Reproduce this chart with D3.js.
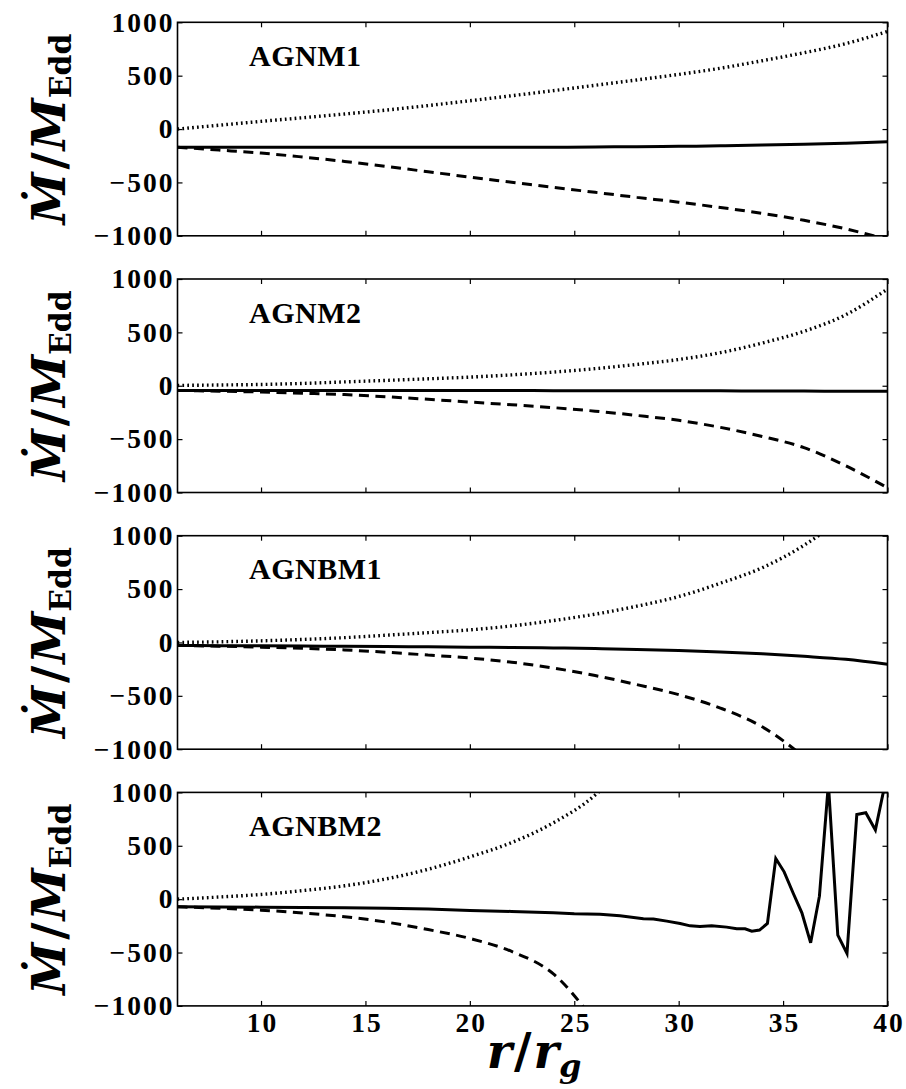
<!DOCTYPE html>
<html><head><meta charset="utf-8">
<script src="https://cdn.jsdelivr.net/npm/d3@7"></script>
<style>body{margin:0;background:#fff}</style>
</head><body>
<svg id="c" width="906" height="1089"></svg>
<script>
// ---------- data ----------
const panelNames = ["AGNM1", "AGNM2", "AGNBM1", "AGNBM2"];
const xTicks = [10, 15, 20, 25, 30, 35, 40];
const yTicks = [-1000, -500, 0, 500, 1000];
const rGrid = [6, 8, 10, 12, 14, 16, 18, 20, 22, 24, 26, 28, 30, 32, 34, 36, 38, 40];

// AGNM1
const agnm1Net = [-170, -170, -170, -170, -170, -170, -170, -170, -170, -170, -168, -165, -162, -157, -150, -142, -132, -120];
const agnm1In  = [0, 36, 72, 106, 141, 178, 220, 265, 312, 360, 410, 460, 512, 570, 640, 715, 800, 915];
const agnm1Out = [-170, -197, -225, -262, -303, -350, -400, -450, -498, -546, -593, -640, -685, -735, -790, -855, -935, -1035];
// AGNM2
const agnm2Net = [-44, -44, -44, -44, -44, -45, -45, -45, -45, -46, -46, -47, -47, -48, -49, -50, -51, -52];
const agnm2In  = [3, 7, 12, 22, 36, 50, 65, 81, 102, 128, 160, 200, 246, 310, 400, 510, 665, 906];
const agnm2Out = [-44, -51, -59, -70, -83, -103, -127, -153, -178, -205, -238, -278, -324, -390, -475, -580, -750, -956];
// AGNBM1
const agnbm1Net = [-28, -30, -32, -34, -36, -38, -41, -44, -47, -51, -57, -65, -75, -89, -107, -130, -158, -205];
const agnbm1In  = [0, 6, 15, 28, 45, 68, 92, 118, 155, 205, 265, 340, 430, 555, 700, 910, 1200, 1600];
const agnbm1Out = [-28, -35, -44, -55, -70, -92, -118, -146, -185, -240, -310, -395, -489, -615, -790, -1070, -1400, -1800];
// AGNBM2
const agnbm2In  = [0, 20, 44, 80, 125, 190, 280, 396, 530, 715, 975, 1400, 1900, 2500, 3200, 4000, 5000, 6000];
const agnbm2Out = [-72, -85, -103, -130, -165, -215, -285, -368, -490, -700, -1150, -1700, -2300, -3000, -3800, -4700, -5700, -6800];
const agnbm2NetR = [6, 8, 10, 12, 14, 16, 18, 20, 22, 24, 25, 26.23, 27.19, 28.31, 28.79, 29.43, 30.07, 30.55, 31.02, 31.58,
  32.30, 32.78, 33.18, 33.50, 33.87, 34.25, 34.65, 35.05, 35.49, 35.90, 36.32, 36.74, 37.17, 37.62, 38.06, 38.53, 38.96, 39.42, 40];
const agnbm2Net = [-72, -73, -75, -78, -81, -86, -93, -106, -115, -128, -137, -141, -156, -184, -187, -206, -228, -250, -256, -250,
  -262, -278, -278, -300, -290, -228, 381, 256, 53, -128, -409, 28, 1080, -337, -509, 793, 809, 647, 1190];

const panelSeries = [
  {net: [rGrid, agnm1Net], inflow: [rGrid, agnm1In], outflow: [rGrid, agnm1Out]},
  {net: [rGrid, agnm2Net], inflow: [rGrid, agnm2In], outflow: [rGrid, agnm2Out]},
  {net: [rGrid, agnbm1Net], inflow: [rGrid, agnbm1In], outflow: [rGrid, agnbm1Out]},
  {net: [agnbm2NetR, agnbm2Net], inflow: [rGrid, agnbm2In], outflow: [rGrid, agnbm2Out]}
];

// ---------- layout ----------
const svg = d3.select("#c");
const left = 177.5, right = 887.5;
const panelH = 213.5, panelStep = 256.7, firstTop = 22.3;
const tickFont = "'Liberation Serif', 'Times New Roman', serif";
const x = d3.scaleLinear().domain([6, 40]).range([left, right]);

const fmt = d => d < 0 ? "\u2212" + Math.abs(d) : String(d);

panelNames.forEach((name, i) => {
  const top = firstTop + i * panelStep;
  const bottom = top + panelH;
  const y = d3.scaleLinear().domain([-1000, 1000]).range([bottom, top]);
  const g = svg.append("g");

  const clipId = "clip" + i;
  svg.append("clipPath").attr("id", clipId).append("rect")
    .attr("x", left).attr("y", top).attr("width", right - left).attr("height", panelH);

  const line = d3.line().x(d => x(d[0])).y(d => y(d[1])).curve(d3.curveMonotoneX);
  const lineLin = d3.line().x(d => x(d[0])).y(d => y(d[1]));
  const s = panelSeries[i];
  const zipped = arr => arr[0].map((r, k) => [r, arr[1][k]]);

  const plot = g.append("g").attr("clip-path", `url(#${clipId})`);
  plot.append("path").attr("d", line(zipped(s.inflow)))
    .attr("fill", "none").attr("stroke", "#000").attr("stroke-width", 3.4)
    .attr("stroke-dasharray", "1.7,3.2");
  plot.append("path").attr("d", line(zipped(s.outflow)))
    .attr("fill", "none").attr("stroke", "#000").attr("stroke-width", 3)
    .attr("stroke-dasharray", "10,6.5");
  plot.append("path").attr("d", (i === 3 ? lineLin : line)(zipped(s.net)))
    .attr("fill", "none").attr("stroke", "#000").attr("stroke-width", 3)
    .attr("stroke-linejoin", "miter");

  // axes (inward ticks)
  const ax = (gen, tr) => {
    const a = g.append("g").attr("transform", tr).call(gen);
    a.select(".domain").remove();
    a.selectAll(".tick line").attr("stroke", "#000").attr("stroke-width", 1.2);
    a.selectAll("text").attr("font-family", tickFont).attr("font-weight", "bold")
      .attr("font-size", 27.5).attr("fill", "#000").attr("letter-spacing", "2px");
    return a;
  };
  ax(d3.axisLeft(y).tickValues(yTicks).tickSize(-5).tickPadding(3).tickFormat(fmt), `translate(${left},0)`);
  ax(d3.axisRight(y).tickValues(yTicks).tickSize(-5).tickFormat(""), `translate(${right},0)`);
  ax(d3.axisTop(x).tickValues(xTicks).tickSize(-5).tickFormat(""), `translate(0,${top})`);
  const bx = ax(d3.axisBottom(x).tickValues(xTicks).tickSize(-5).tickPadding(7)
      .tickFormat(i === 3 ? d => String(d) : ""), `translate(0,${bottom})`);
  bx.selectAll("text").attr("dx", 1);

  g.append("rect").attr("x", left).attr("y", top).attr("width", right - left).attr("height", panelH)
    .attr("fill", "none").attr("stroke", "#000").attr("stroke-width", 1.6);

  // panel label
  g.append("text").attr("x", 249).attr("y", top + 43.5)
    .attr("font-family", tickFont).attr("font-weight", "bold").attr("font-size", 30)
    .attr("letter-spacing", "0.5px")
    .text(name);

  // y-axis label
  const yl = g.append("text")
    .attr("transform", `translate(65,${top + panelH / 2}) rotate(-90)`)
    .attr("text-anchor", "middle")
    .attr("font-family", "'DejaVu Serif', serif").attr("font-weight", "bold").attr("font-size", 47);
  yl.append("tspan").attr("font-style", "italic").text("\u1E40");
  yl.append("tspan").attr("dx", 3).text("/");
  yl.append("tspan").attr("dx", 2).attr("font-style", "italic").text("M");
  yl.append("tspan").attr("font-size", 30).attr("dy", 6).text("Edd");
});

// x-axis label
const xl = svg.append("text").attr("x", 534).attr("y", 1068).attr("text-anchor", "middle")
  .attr("font-family", "'DejaVu Serif', serif").attr("font-weight", "bold").attr("font-size", 48);
xl.append("tspan").attr("font-style", "italic").text("r");
xl.append("tspan").attr("dx", 2).text("/");
xl.append("tspan").attr("dx", 2).attr("font-style", "italic").text("r");
xl.append("tspan").attr("font-style", "italic").attr("font-size", 32).attr("dy", 9).text("g");
</script>
</body></html>
